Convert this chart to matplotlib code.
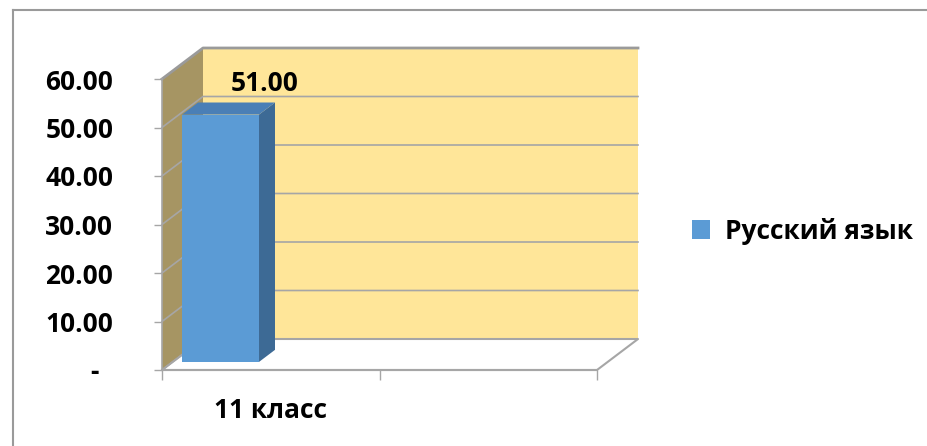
import matplotlib
matplotlib.use("Agg")
import matplotlib.pyplot as plt
import matplotlib.transforms as mtransforms
from matplotlib.patches import Polygon, Patch
from matplotlib.lines import Line2D

# ---- data ----
categories = ["11 класс", ""]
series_name = "Русский язык"
values = [51.00]
y_ticks = [0, 10, 20, 30, 40, 50, 60]
y_tick_labels = ["-  ", "10.00", "20.00", "30.00", "40.00", "50.00", "60.00"]

FONT = "Open Sans"
FS = 19
W, H = 927, 446
fig = plt.figure(figsize=(W / 100, H / 100), dpi=100)
fig.patch.set_facecolor("white")

# front plane of the 3D box, in figure fractions
ax = fig.add_axes([162 / W, 76 / H, 435 / W, 291 / H])
ax.set_xlim(0, len(categories))
ymax = y_ticks[-1]
ax.set_ylim(0, ymax)
ax.patch.set_visible(False)
for s in ax.spines.values():
    s.set_visible(False)

# depth offset (full depth) in data units
DX = 41 / 435 * len(categories)
DY = 31 / 291 * ymax


def P(x, v, d):
    return (x + d * DX, v + d * DY)


xr = len(categories)
grid_c = "#a6a6a6"
# back wall
ax.add_patch(Polygon([P(0, 0, 1), P(xr, 0, 1), P(xr, ymax, 1), P(0, ymax, 1)],
                     closed=True, facecolor="#ffe699", edgecolor="none", clip_on=False, zorder=1))
# left wall
ax.add_patch(Polygon([P(0, 0, 0), P(0, 0, 1), P(0, ymax, 1), P(0, ymax, 0)],
                     closed=True, facecolor="#a69563", edgecolor="none", clip_on=False, zorder=1))
# floor
ax.add_patch(Polygon([P(0, 0, 0), P(xr, 0, 0), P(xr, 0, 1), P(0, 0, 1)],
                     closed=True, facecolor="white", edgecolor=grid_c, lw=1.5, clip_on=False, zorder=1.5))
# gridlines on walls
for t in y_ticks:
    xs = [P(0, t, 0)[0], P(0, t, 1)[0], P(xr, t, 1)[0]]
    ys = [P(0, t, 0)[1], P(0, t, 1)[1], P(xr, t, 1)[1]]
    lw = 2.0 if t == ymax else 1.2
    col = "#9a9a9a" if t == ymax else grid_c
    ax.plot(xs, ys, color=col, lw=lw, clip_on=False, zorder=2)

# bar (3D box)
bx0, bx1 = 0.043, 0.397
d0, d1 = 0.26, 0.65
for i, v in enumerate(values):
    x0, x1 = i + bx0, i + bx1
    front = [P(x0, 0, d0), P(x1, 0, d0), P(x1, v, d0), P(x0, v, d0)]
    side = [P(x1, 0, d0), P(x1, 0, d1), P(x1, v, d1), P(x1, v, d0)]
    top = [P(x0, v, d0), P(x1, v, d0), P(x1, v, d1), P(x0, v, d1)]
    ax.add_patch(Polygon(side, closed=True, facecolor="#3d6a95", edgecolor="none", clip_on=False, zorder=3))
    ax.add_patch(Polygon(top, closed=True, facecolor="#4a7fb6", edgecolor="none", clip_on=False, zorder=3))
    ax.add_patch(Polygon(front, closed=True, facecolor="#5b9bd5", edgecolor="none", clip_on=False, zorder=3))
    lx, ly = P((x0 + x1) / 2, v, d1)
    ax.annotate(f"{v:.2f}", xy=(lx, ly), xytext=(28, 19), textcoords="offset pixels",
                ha="center", va="center", fontsize=FS, fontweight="bold",
                family=FONT, color="black", zorder=5, annotation_clip=False)

# axes lines
ax.plot([0, 0], [0, ymax], color=grid_c, lw=1.2, clip_on=False, zorder=2)
ax.plot([0, xr], [0, 0], color=grid_c, lw=1.5, clip_on=False, zorder=2)

ax.set_yticks(y_ticks)
ax.set_yticklabels(y_tick_labels, fontsize=FS, fontweight="bold", family=FONT)
ax.tick_params(axis="y", length=6, width=1, color=grid_c, pad=29)
ax.set_xticks(range(len(categories) + 1))
ax.set_xticklabels([""] * (len(categories) + 1))
ax.tick_params(axis="x", length=7, width=1, color=grid_c)
shift = mtransforms.Affine2D().translate(0, -41)
for i, c in enumerate(categories):
    if c:
        ax.text(i + 0.5, 0, c, transform=ax.get_xaxis_transform() + shift, ha="center", va="center",
                fontsize=FS, fontweight="bold", family=FONT)

# legend
leg = fig.legend(handles=[Patch(facecolor="#5b9bd5", edgecolor="none", label=series_name)],
                 loc="center left", bbox_to_anchor=(668 / W, 1 - 231 / H), frameon=False,
                 handlelength=0.7, handleheight=0.7, handletextpad=0.55,
                 prop={"family": FONT, "weight": "bold", "size": FS})

# outer border (top and left)
fig.add_artist(Line2D([13 / W, 13 / W], [0, 1 - 9.5 / H], color="#9a9a9a", lw=1.5))
fig.add_artist(Line2D([13 / W, 1], [1 - 9.5 / H, 1 - 9.5 / H], color="#9a9a9a", lw=1.5))

fig.savefig("out.png", dpi=100, facecolor="white")
